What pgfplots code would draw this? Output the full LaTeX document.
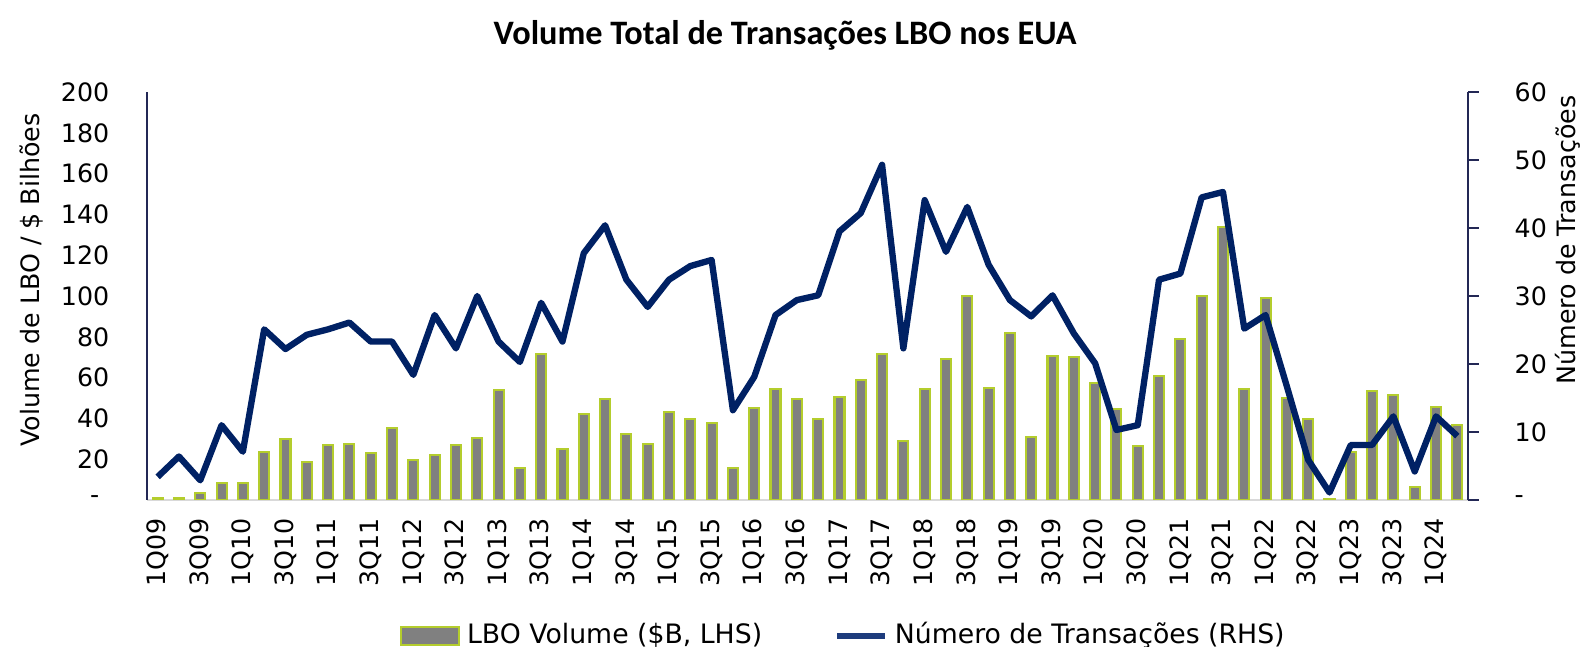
\documentclass[border=0pt]{standalone}
\usepackage{pgfplots}
\pgfplotsset{compat=1.18}
\usepackage{pgfplotstable}
\usepackage{fontspec}
\setmainfont{DejaVu Sans}
\newfontfamily\titlefont{Carlito}
\definecolor{navy}{RGB}{0,33,100}
\definecolor{legnavy}{RGB}{30,60,125}
\definecolor{axisnavy}{RGB}{35,40,85}
\definecolor{barfill}{RGB}{128,128,128}
\definecolor{bargreen}{RGB}{180,205,45}
\definecolor{basegray}{RGB}{217,217,217}

\pgfplotstableread{
x vol deals
0 1 3.4
1 1 6.4
2 3.6 2.9
3 8.5 11
4 8.5 7.1
5 23.7 25.1
6 29.9 22.2
7 18.5 24.3
8 27 25.1
9 27.5 26.1
10 23.2 23.3
11 35.1 23.3
12 19.6 18.4
13 22 27.2
14 27 22.3
15 30.2 30
16 53.9 23.3
17 15.5 20.3
18 71.6 29
19 25 23.3
20 42 36.3
21 49.5 40.4
22 32.2 32.4
23 27.3 28.4
24 43 32.4
25 39.5 34.4
26 37.6 35.3
27 15.5 13.2
28 45.3 18.1
29 54.2 27.2
30 49.3 29.4
31 39.5 30.1
32 50.6 39.5
33 58.8 42.2
34 71.6 49.3
35 29 22.3
36 54.2 44.1
37 69 36.5
38 100 43.1
39 54.7 34.6
40 81.7 29.4
41 31 27
42 70.6 30.1
43 70 24.5
44 57.2 20.1
45 44.5 10.3
46 26.6 11
47 60.8 32.4
48 78.8 33.3
49 100 44.5
50 133.7 45.3
51 54.2 25.2
52 98.9 27.2
53 49.8 16.7
54 39.7 5.9
55 0.5 1.1
56 23.7 8.1
57 53.4 8.1
58 51.5 12.3
59 6.5 4.2
60 45.4 12.3
61 36.8 9.4
}\datatable

\begin{document}
\begin{tikzpicture}
\begin{axis}[
  at={(0,0)}, anchor=south west,
  scale only axis, width=132.1mm, height=40.8mm,
  xmin=-0.5, xmax=61.5, ymin=0, ymax=200,
  axis y line*=left, axis x line*=bottom,
  x axis line style={basegray, line width=0.8pt, -},
  y axis line style={axisnavy, line width=0.7pt, -},
  xtick={0,2,...,60},
  xticklabels={1Q09,3Q09,1Q10,3Q10,1Q11,3Q11,1Q12,3Q12,1Q13,3Q13,1Q14,3Q14,1Q15,3Q15,1Q16,3Q16,1Q17,3Q17,1Q18,3Q18,1Q19,3Q19,1Q20,3Q20,1Q21,3Q21,1Q22,3Q22,1Q23,3Q23,1Q24},
  major tick length=0pt,
  xtick style={draw=none}, ytick style={draw=none},
  xticklabel style={yshift=-1.8mm, rotate=90, anchor=east, inner sep=0pt, font=\fontsize{7.2}{8.6}\selectfont},
  ytick={0,20,...,200},
  yticklabels={-\hspace*{1mm},20,40,60,80,100,120,140,160,180,200},
  yticklabel style={anchor=east, inner sep=0pt, font=\fontsize{7.2}{8.6}\selectfont},
  yticklabel shift=3.7mm,
  ylabel={Volume de LBO / \$ Bilhões},
  ylabel style={at={(axis description cs:-0.0871,0.539)}, anchor=center, inner sep=0pt, font=\fontsize{7.2}{8.6}\selectfont},
  ybar, bar width=1.0mm,
  title={\titlefont\bfseries Volume Total de Transações LBO nos EUA},
  title style={at={(axis description cs:0.483,1)}, anchor=center, yshift=3.6mm, font=\fontsize{9.75}{11}\selectfont},
]
\addplot[fill=barfill, draw=bargreen, line width=0.6pt] table[x=x,y=vol]{\datatable};
\end{axis}
\begin{axis}[
  at={(0,0)}, anchor=south west,
  scale only axis, width=132.1mm, height=40.8mm,
  xmin=-0.5, xmax=61.5, ymin=0, ymax=60,
  axis y line*=right, axis x line=none,
  y axis line style={axisnavy, line width=0.7pt, -},
  ytick={0,10,...,60},
  yticklabels={-,10,20,30,40,50,60},
  tick align=outside, major tick length=1.1mm,
  ytick style={axisnavy, line width=0.7pt},
  yticklabel style={anchor=west, inner sep=0pt, xshift=3.5mm, font=\fontsize{7.2}{8.6}\selectfont},
  yticklabel shift=0pt,
  ylabel={Número de Transações},
  ylabel style={at={(axis description cs:1.0757,0.637)}, anchor=center, inner sep=0pt, font=\fontsize{7.2}{8.6}\selectfont},
  legend columns=2,
  legend style={at={(axis description cs:0.529,-0.333)}, anchor=center, draw=none, fill=none,
    font=\fontsize{7.6}{9}\selectfont,
    /tikz/every even column/.append style={column sep=6.5mm}},
]
\addlegendimage{legend image code/.code={\draw[fill=barfill, draw=bargreen, line width=0.6pt] (0cm,-0.09cm) rectangle (0.58cm,0.09cm);}}
\addlegendentry{LBO Volume (\$B, LHS)}
\addplot[navy, line width=1.8pt, line join=round, mark=none,
  legend image code/.code={\draw[legnavy, line width=1.6pt] (0cm,0cm) -- (0.48cm,0cm);}]
  table[x=x,y=deals]{\datatable};
\addlegendentry{Número de Transações (RHS)}
\end{axis}
\pgfresetboundingbox
\path[use as bounding box] (-14.7mm,-14.7mm) rectangle (143.5mm,50mm);
\end{tikzpicture}
\end{document}
